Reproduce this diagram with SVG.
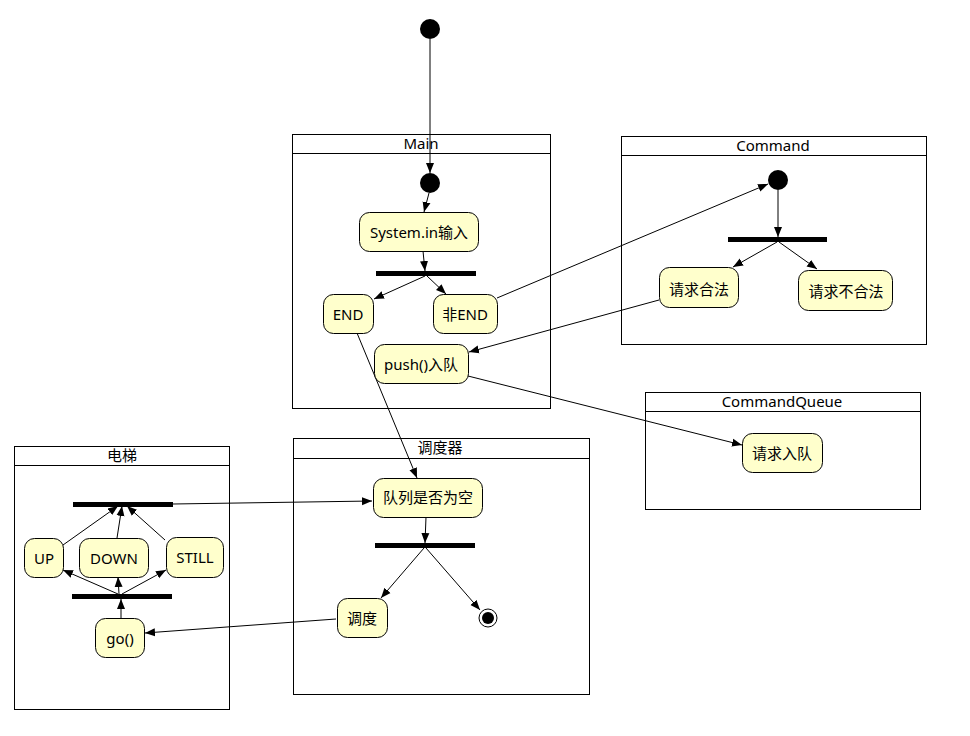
<svg xmlns="http://www.w3.org/2000/svg" width="970" height="736" viewBox="0 0 970 736">
<style>
.frame{fill:#fff;stroke:#000;stroke-width:1}
.hdr{stroke:#000;stroke-width:1}
.title{font-family:"Noto Sans","Noto Sans CJK SC",sans-serif;font-size:15px;fill:#000;text-anchor:middle}
.st{fill:#ffffcc;stroke:#000;stroke-width:1}
.lbl{font-family:"Noto Sans","Noto Sans CJK SC",sans-serif;font-size:15px;fill:#000;text-anchor:middle;dominant-baseline:central}
.bar{fill:#000}
.dot{fill:#000}
.edge{stroke:#000;stroke-width:1;fill:none;marker-end:url(#ah)}
</style>
<defs>
<marker id="ah" viewBox="0 0 10 10" refX="10" refY="5" markerWidth="10" markerHeight="10" markerUnits="userSpaceOnUse" orient="auto">
<path d="M0,1 L10,5 L0,9 Z" fill="#000"/>
</marker>
</defs>
<rect width="970" height="736" fill="#fff"/>

<g id="frame-main">
<rect class="frame" x="292.5" y="134.5" width="258" height="274"/>
<line class="hdr" x1="292.5" y1="153.5" x2="550.5" y2="153.5"/>
<text class="title" x="421" y="149">Main</text>
</g>
<g id="frame-command">
<rect class="frame" x="621.5" y="136.5" width="305" height="208"/>
<line class="hdr" x1="621.5" y1="155.5" x2="926.5" y2="155.5"/>
<text class="title" x="773" y="151">Command</text>
</g>
<g id="frame-queue">
<rect class="frame" x="645.5" y="392.5" width="275" height="117"/>
<line class="hdr" x1="645.5" y1="411.5" x2="920.5" y2="411.5"/>
<text class="title" x="782" y="407">CommandQueue</text>
</g>
<g id="frame-elevator">
<rect class="frame" x="14.5" y="446.5" width="215" height="263"/>
<line class="hdr" x1="14.5" y1="465.5" x2="229.5" y2="465.5"/>
<text class="title" x="122" y="461">电梯</text>
</g>
<g id="frame-scheduler">
<rect class="frame" x="293.5" y="438.5" width="296" height="256"/>
<line class="hdr" x1="293.5" y1="458.5" x2="589.5" y2="458.5"/>
<text class="title" x="440" y="453">调度器</text>
</g>

<g id="connectors">
<line class="edge" x1="430" y1="39" x2="430" y2="173"/>
<line class="edge" x1="429" y1="193" x2="424" y2="212"/>
<line class="edge" x1="423" y1="251" x2="425" y2="271"/>
<line class="edge" x1="425" y1="276" x2="374" y2="299"/>
<line class="edge" x1="427" y1="276" x2="446" y2="294"/>
<line class="edge" x1="497" y1="298" x2="768" y2="184"/>
<line class="edge" x1="778" y1="190" x2="778" y2="237"/>
<line class="edge" x1="777" y1="242" x2="733" y2="267"/>
<line class="edge" x1="779" y1="242" x2="817" y2="269"/>
<line class="edge" x1="659" y1="300" x2="469" y2="352"/>
<line class="edge" x1="468" y1="376" x2="742" y2="445"/>
<line class="edge" x1="357" y1="333" x2="417" y2="478"/>
<line class="edge" x1="173" y1="504" x2="372" y2="501"/>
<line class="edge" x1="426" y1="517" x2="425" y2="543"/>
<line class="edge" x1="424" y1="548" x2="381" y2="598"/>
<line class="edge" x1="426" y1="548" x2="480" y2="610"/>
<line class="edge" x1="336" y1="619" x2="145" y2="633"/>
<line class="edge" x1="121" y1="618" x2="121" y2="599"/>
<line class="edge" x1="118" y1="594" x2="63" y2="570"/>
<line class="edge" x1="119" y1="594" x2="118" y2="577"/>
<line class="edge" x1="122" y1="594" x2="166" y2="570"/>
<line class="edge" x1="63" y1="545" x2="118" y2="506"/>
<line class="edge" x1="117" y1="538" x2="122" y2="506"/>
<line class="edge" x1="165" y1="540" x2="127" y2="506"/>
</g>

<g id="start-top"><circle class="dot" cx="430" cy="29" r="10"/></g>
<g id="main-initial"><circle class="dot" cx="430" cy="183" r="10"/></g>
<g id="system-in"><rect class="st" x="359.5" y="212.5" width="119" height="39" rx="10"/><text class="lbl" x="419" y="232">System.in输入</text></g>
<g id="main-fork"><rect class="bar" x="376" y="271" width="100" height="5"/></g>
<g id="end"><rect class="st" x="323.5" y="294.5" width="50" height="39" rx="10"/><text class="lbl" x="348" y="314">END</text></g>
<g id="not-end"><rect class="st" x="433.5" y="294.5" width="64" height="39" rx="10"/><text class="lbl" x="465" y="314">非END</text></g>
<g id="push"><rect class="st" x="374.5" y="344.5" width="94" height="39" rx="10"/><text class="lbl" x="421" y="364">push()入队</text></g>

<g id="cmd-initial"><circle class="dot" cx="778" cy="180" r="10"/></g>
<g id="cmd-fork"><rect class="bar" x="728" y="237" width="99" height="5"/></g>
<g id="valid"><rect class="st" x="659.5" y="267.5" width="79" height="40" rx="10"/><text class="lbl" x="699" y="289">请求合法</text></g>
<g id="invalid"><rect class="st" x="798.5" y="270.5" width="94" height="40" rx="10"/><text class="lbl" x="846" y="291">请求不合法</text></g>

<g id="enqueue"><rect class="st" x="742.5" y="433.5" width="80" height="39" rx="10"/><text class="lbl" x="782" y="453">请求入队</text></g>

<g id="queue-empty"><rect class="st" x="373.5" y="478.5" width="109" height="39" rx="10"/><text class="lbl" x="428" y="497">队列是否为空</text></g>
<g id="sched-fork"><rect class="bar" x="375" y="543" width="100" height="5"/></g>
<g id="dispatch"><rect class="st" x="337.5" y="598.5" width="50" height="39" rx="10"/><text class="lbl" x="362" y="618">调度</text></g>
<g id="final"><circle cx="488" cy="618" r="9" fill="#fff" stroke="#000" stroke-width="1"/><circle class="dot" cx="488" cy="618" r="6"/></g>

<g id="elev-top-bar"><rect class="bar" x="73" y="502" width="100" height="5"/></g>
<g id="up"><rect class="st" x="24.5" y="538.5" width="39" height="39" rx="10"/><text class="lbl" x="44" y="558">UP</text></g>
<g id="down"><rect class="st" x="79.5" y="538.5" width="69" height="39" rx="10"/><text class="lbl" x="114" y="558">DOWN</text></g>
<g id="still"><rect class="st" x="166.5" y="537.5" width="57" height="40" rx="10"/><text class="lbl" x="195" y="557">STILL</text></g>
<g id="elev-bottom-bar"><rect class="bar" x="72" y="594" width="100" height="5"/></g>
<g id="go"><rect class="st" x="95.5" y="618.5" width="49" height="39" rx="10"/><text class="lbl" x="120" y="638">go()</text></g>
</svg>
